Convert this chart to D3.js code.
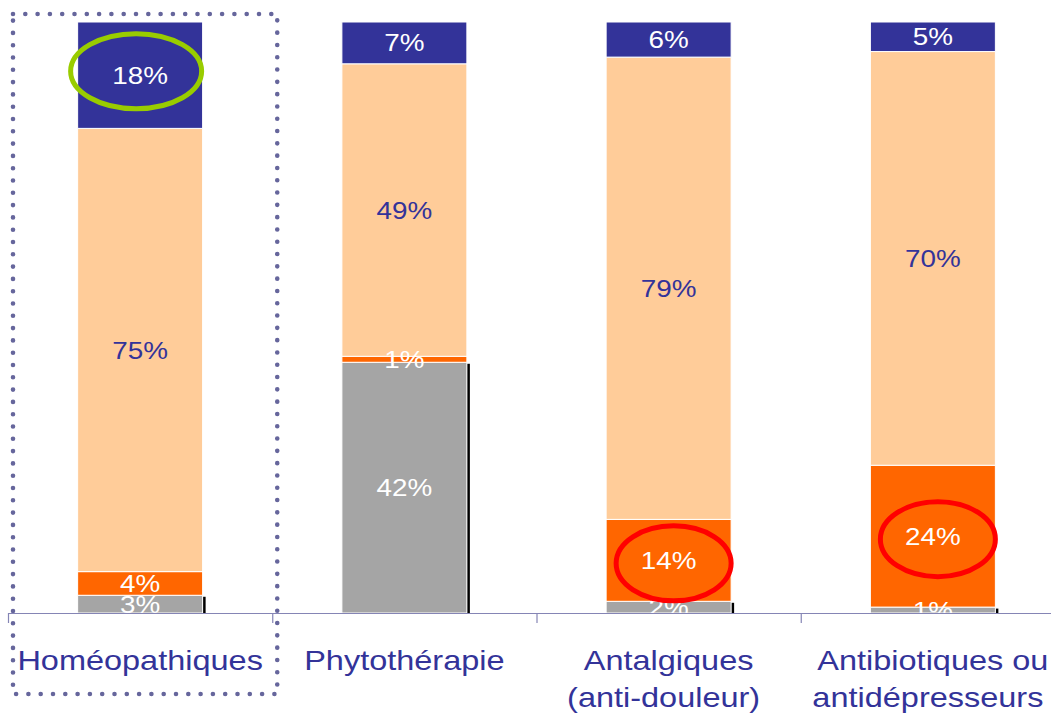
<!DOCTYPE html>
<html><head><meta charset="utf-8">
<script src="https://cdn.jsdelivr.net/npm/d3@7"></script>
<style>html,body{margin:0;padding:0;background:#fff;} svg{display:block;}</style>
</head><body>
<svg id="chart" width="1051" height="713"></svg>
<script>
// ---- data ----
const categories = ["Homéopathiques", "Phytothérapie", "Antalgiques (anti-douleur)", "Antibiotiques ou antidépresseurs"];
const categoryLines = [["Homéopathiques"], ["Phytothérapie"], ["Antalgiques", "(anti-douleur)"], ["Antibiotiques ou", "antidépresseurs"]];
const seriesKeys = ["s1", "s2", "s3", "s4"];      // bottom -> top
const s1Values = [3, 42, 2, 1];     // grey
const s2Values = [4, 1, 14, 24];    // orange
const s3Values = [75, 49, 79, 70];  // peach
const s4Values = [18, 7, 6, 5];     // navy
// annotations: ellipse around a given value label
const annotations = [
  {cat: 0, key: "s4", color: "#99CC00"},
  {cat: 2, key: "s2", color: "#FF0000"},
  {cat: 3, key: "s2", color: "#FF0000"}
];

// ---- styles ----
const colors = {s1: "#A5A5A5", s2: "#FF6600", s3: "#FFCC99", s4: "#333399"};
const labelColors = {s1: "#FFFFFF", s2: "#FFFFFF", s3: "#333399", s4: "#FFFFFF"};
const FONT = "'Liberation Sans', Arial, Helvetica, sans-serif";
const SX = 1.16; // horizontal text stretch of the original

const svg = d3.select("#chart");
const W = 1051, H = 713;
const margin = {left: 8, right: -14, top: 22, bottom: 100};
const baseY = H - margin.bottom;

const table = categories.map((c, i) => ({cat: c, s1: s1Values[i], s2: s2Values[i], s3: s3Values[i], s4: s4Values[i]}));
const stack = d3.stack().keys(seriesKeys).offset(d3.stackOffsetExpand);
const layers = stack(table);

const x = d3.scaleBand().domain(categories).range([margin.left, W - margin.right]).paddingInner(0.527).paddingOuter(0.2635);
const y = d3.scaleLinear().domain([0, 1]).range([baseY, margin.top]);
const step = x.step();

// dotted highlight box around first category
{
  const x0 = x(categories[0]) - x.paddingOuter() * step;
  svg.append("rect")
    .attr("x", x0 + 5).attr("y", 14)
    .attr("width", step).attr("height", 680)
    .attr("fill", "none").attr("stroke", "#66669C").attr("stroke-width", 4.6)
    .attr("stroke-linecap", "round").attr("stroke-dasharray", "0 12.3");
}

const defs = svg.append("defs");
defs.append("clipPath").attr("id", "plotclip").append("rect")
  .attr("x", 0).attr("y", 0).attr("width", W).attr("height", baseY);

// shadows on the right side of the grey segment
svg.append("g").selectAll("rect").data(layers[0]).join("rect")
  .attr("x", d => x(d.data.cat) + x.bandwidth())
  .attr("y", d => y(d[1]) + 1.5)
  .attr("width", 3)
  .attr("height", d => Math.max(0, y(d[0]) - y(d[1]) - 1.5))
  .attr("fill", "#000");

// bars
svg.append("g").selectAll("g").data(layers).join("g")
  .attr("fill", d => colors[d.key])
  .selectAll("rect").data(d => d).join("rect")
  .attr("x", d => x(d.data.cat))
  .attr("y", d => y(d[1]))
  .attr("width", x.bandwidth())
  .attr("height", d => y(d[0]) - y(d[1]))
  .attr("stroke", "#fff").attr("stroke-width", 1);

// axis
const axisColor = "#8585B5";
svg.append("line").attr("x1", margin.left).attr("x2", W).attr("y1", baseY + 0.5).attr("y2", baseY + 0.5)
  .attr("stroke", axisColor).attr("stroke-width", 1.2);
svg.append("g").selectAll("line").data(categories).join("line")
  .attr("x1", d => x(d) - x.paddingOuter() * step + 0.5)
  .attr("x2", d => x(d) - x.paddingOuter() * step + 0.5)
  .attr("y1", baseY).attr("y2", baseY + 10)
  .attr("stroke", axisColor).attr("stroke-width", 1.2);

// value labels
const labelG = svg.append("g").attr("clip-path", "url(#plotclip)");
layers.forEach(layer => {
  layer.forEach((d, i) => {
    const cx = x(d.data.cat) + x.bandwidth() / 2;
    const cy = (y(d[0]) + y(d[1])) / 2;
    labelG.append("text")
      .attr("transform", `translate(${cx},${cy + 8.6}) scale(${SX},1)`)
      .attr("text-anchor", "middle")
      .attr("font-family", FONT).attr("font-size", 24)
      .attr("fill", labelColors[layer.key])
      .text(d.data[layer.key] + "%");
  });
});

// annotation ellipses
annotations.forEach(a => {
  const layer = layers.find(l => l.key === a.key);
  const d = layer[a.cat];
  const cx = x(d.data.cat) + x.bandwidth() / 2;
  const cy = (y(d[0]) + y(d[1])) / 2;
  svg.append("ellipse")
    .attr("cx", cx + (a.cat === 0 ? -4 : 5)).attr("cy", cy + (a.cat === 0 ? -4 : 3))
    .attr("rx", a.cat === 0 ? 65.5 : 57.5).attr("ry", 37.5)
    .attr("fill", "none").attr("stroke", a.color).attr("stroke-width", 5);
});

// category labels
categoryLines.forEach((lines, i) => {
  const cx = x(categories[i]) + x.bandwidth() / 2;
  lines.forEach((ln, j) => {
    svg.append("text")
      .attr("transform", `translate(${cx - (j === 1 ? 5 : 0)},${baseY + 57 + j * 37}) scale(${SX},1)`)
      .attr("text-anchor", "middle")
      .attr("font-family", FONT).attr("font-size", 28)
      .attr("fill", "#333399")
      .text(ln);
  });
});
</script>
</body></html>
